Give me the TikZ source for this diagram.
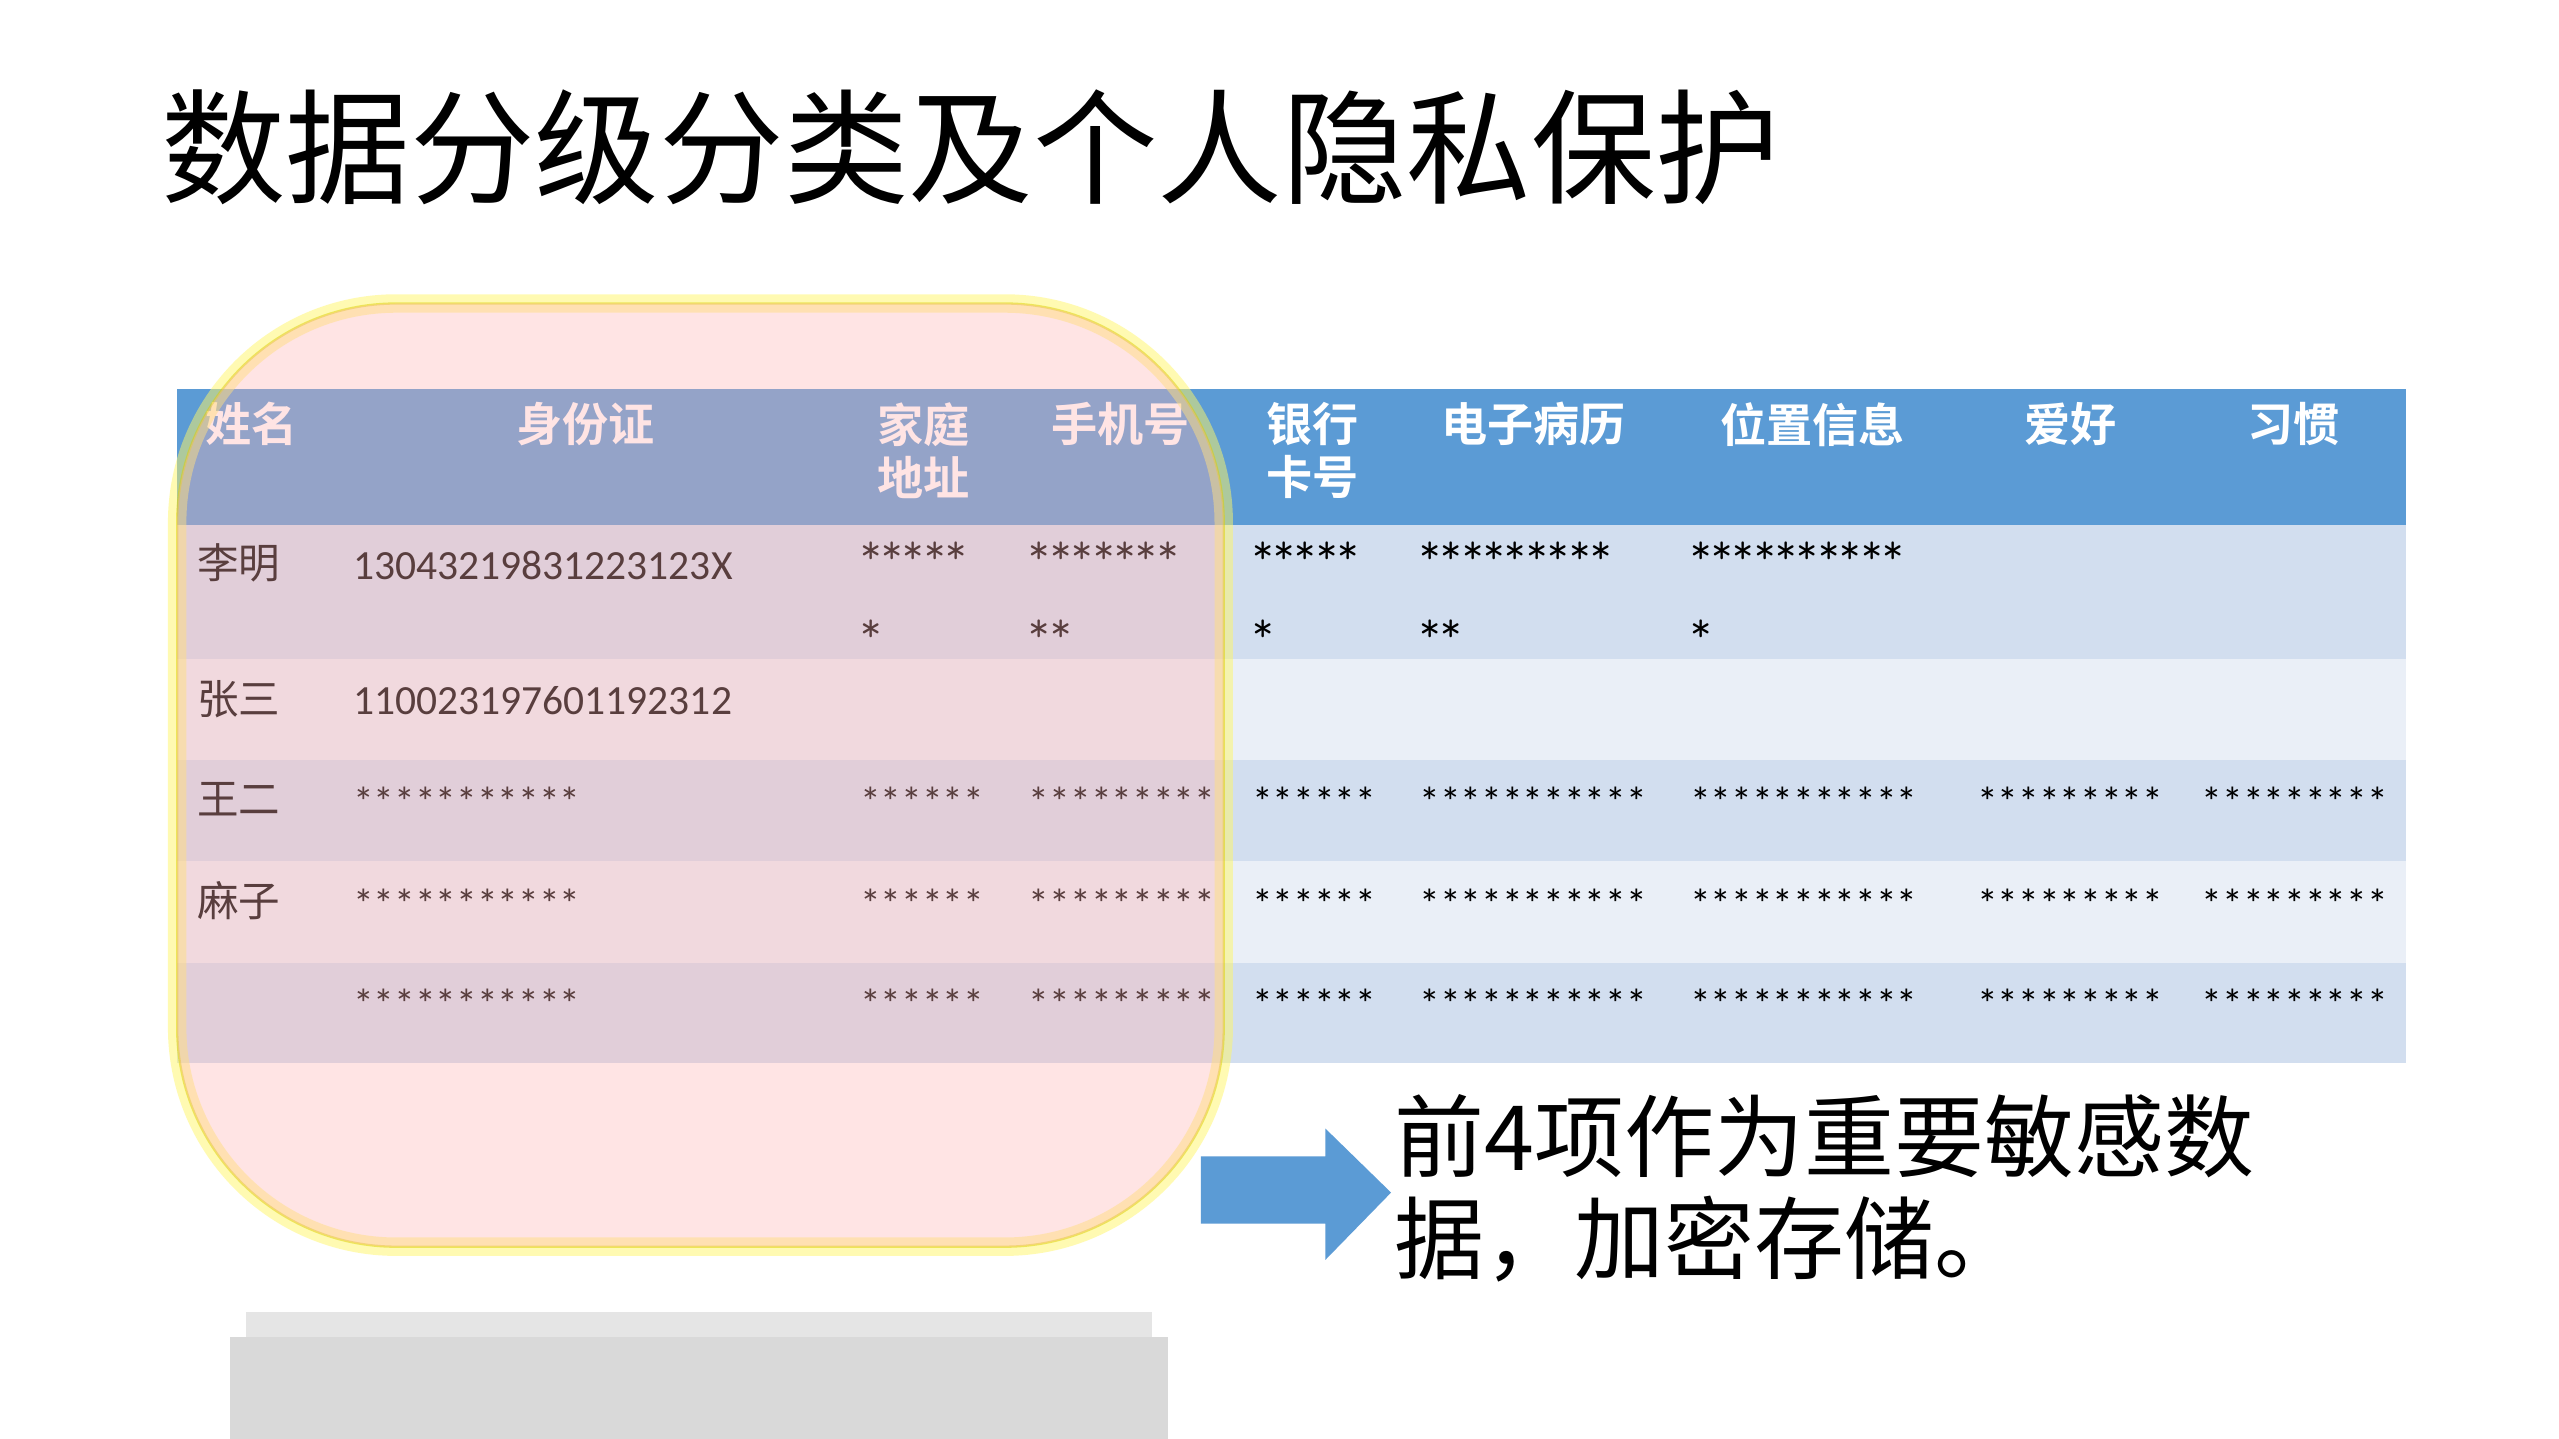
\documentclass[tikz,border=0pt]{standalone}
\usepackage{fontspec}
\setmainfont{Carlito}
\newfontfamily\cjk{Noto Sans CJK SC}
\newfontfamily\cjkb{Noto Sans CJK SC Bold}
\definecolor{hdr}{HTML}{5B9BD5}
\definecolor{rowa}{HTML}{D2DEEF}
\definecolor{rowb}{HTML}{EAEFF7}
\definecolor{arr}{HTML}{5B9BD5}
\tikzset{
  hd/.style={text=white,font=\cjkb\fontsize{20}{23}\selectfont,anchor=north west,align=left,inner sep=0},
  hdc/.style={text=white,font=\cjkb\fontsize{20}{23}\selectfont,anchor=north,align=center,inner sep=0},
  dt/.style={font=\fontsize{18}{22}\selectfont,anchor=west,inner sep=0},
  nm/.style={font=\cjk\fontsize{18}{22}\selectfont,anchor=west,inner sep=0},
}
\begin{document}
\begin{tikzpicture}[x=0.025cm,y=-0.025cm]
\useasboundingbox (0,0) rectangle (1560,877);
\fill[white] (0,0) rectangle (1560,877);
\node[font=\cjk\fontsize{54}{60}\selectfont,anchor=west,inner sep=0] (title) at (98,90) {数据分级分类及个人隐私保护};
% shadow
\fill[black!15] (140,815) rectangle (712,877);
\fill[black!10] (150,800) rectangle (702,815);
% table
\fill[hdr] (108,237) rectangle (1467,320);
\fill[rowa] (108,320) rectangle (1467,402);
\fill[rowb] (108,402) rectangle (1467,463);
\fill[rowa] (108,463) rectangle (1467,525);
\fill[rowb] (108,525) rectangle (1467,587);
\fill[rowa] (108,587) rectangle (1467,648);
% header
\node[hd] (h1) at (125,245) {姓名};
\node[hdc] (h2) at (357,245) {身份证};
\node[hdc] (h3) at (563,245) {家庭\\地址};
\node[hdc] (h4) at (683,245) {手机号};
\node[hd] (h5) at (772,245) {银行\\卡号};
\node[hdc] (h6) at (935,245) {电子病历};
\node[hdc] (h7) at (1105,245) {位置信息};
\node[hdc] (h8) at (1262,245) {爱好};
\node[hdc] (h9) at (1398,245) {习惯};
% row1
\node[nm] (n1) at (120,343) {李明};
\node[dt] (i1) at (215,345) {13043219831223123X};
\node[dt,anchor=north west,align=left,font=\ttfamily\fontsize{18}{34}\selectfont] (a1) at (524,330) {*****\\*};
\node[dt,anchor=north west,align=left,font=\ttfamily\fontsize{18}{34}\selectfont] (p1) at (627,330) {*******\\**};
\node[dt,anchor=north west,align=left,font=\ttfamily\fontsize{18}{34}\selectfont] (b1) at (763,330) {*****\\*};
\node[dt,anchor=north west,align=left,font=\ttfamily\fontsize{18}{34}\selectfont] (e1) at (865,330) {*********\\**};
\node[dt,anchor=north west,align=left,font=\ttfamily\fontsize{18}{34}\selectfont] (l1) at (1030,330) {**********\\*};
% row2
\node[nm] (n2) at (120,426) {张三};
\node[dt] (i2) at (215,427) {110023197601192312};
% rows 3-5
\foreach \y/\nm [count=\k] in {489/王二,551/麻子,612/{}}{
  \node[nm] (nn\k) at (120,\y-2) {\nm};
  \node[dt] (ii\k) at (215,\y) {***********};
  \node[dt] (aa\k) at (524,\y) {******};
  \node[dt] (pp\k) at (627,\y) {*********};
  \node[dt] (bb\k) at (763,\y) {******};
  \node[dt] (ee\k) at (865,\y) {***********};
  \node[dt] (ll\k) at (1030,\y) {***********};
  \node[dt] (hh\k) at (1205,\y) {*********};
  \node[dt] (xx\k) at (1342,\y) {*********};
}
% overlay
\draw[yellow!60!white,line width=8pt,opacity=0.5,rounded corners=95] (108,185) rectangle (746,760);
\draw[yellow!70!olive,line width=1pt,opacity=0.5,rounded corners=95] (108,185) rectangle (746,760);
\fill[red!30,fill opacity=0.35,rounded corners=95] (108,185) rectangle (746,760);
% arrow
\fill[arr] (732,705) -- (808,705) -- (808,688) -- (848,727) -- (808,768) -- (808,746) -- (732,746) -- cycle;
\node[font=\cjk\fontsize{39}{44}\selectfont,anchor=north west,align=left,inner sep=0] (txt) at (850,667) {前4项作为重要敏感数\\据，加密存储。};
\end{tikzpicture}
\end{document}
